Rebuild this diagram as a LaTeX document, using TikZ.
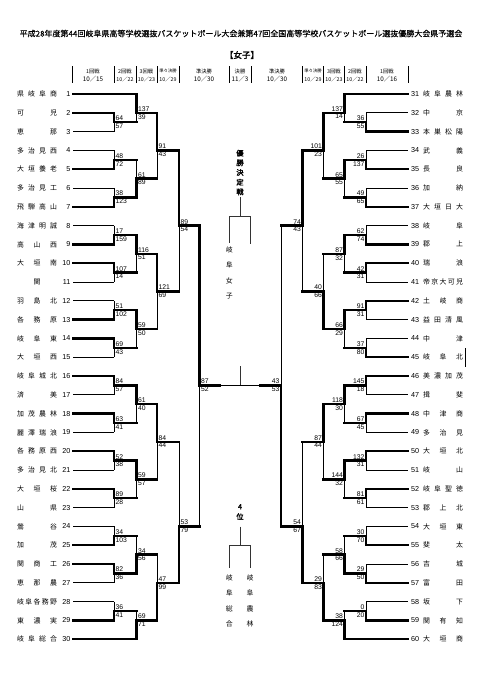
\documentclass[tikz,border=0pt]{standalone}
\usepackage{fontspec}
\setmainfont{Liberation Sans}
\newfontfamily\jp{Noto Sans CJK JP}
\newfontfamily\jpb[FakeBold=2]{Noto Sans CJK JP}
\newfontfamily\jpm[FakeBold=0.4]{Noto Sans CJK JP}
\tikzset{
 W/.style={line width=2.3pt, line cap=rect},
 L/.style={line width=0.7pt},
 G/.style={line width=0.8pt, black!80},
 sc/.style={font=\fontsize{6.8}{7}\selectfont, inner sep=0pt},
 num/.style={font=\fontsize{7.2}{8}\selectfont, inner sep=0pt},
 nm/.style={font=\jp\fontsize{6.9}{7}\selectfont, inner sep=0pt},
 hd/.style={font=\jp\fontsize{5.3}{6}\selectfont, inner sep=0pt},
 hds/.style={font=\jp\fontsize{4.3}{5}\selectfont, inner sep=0pt},
 dt/.style={font=\jp\fontsize{6.3}{7}\selectfont, inner sep=0pt},
 dts/.style={font=\jp\fontsize{5.3}{6}\selectfont, inner sep=0pt},
}
\newcommand\KY[2]{\pgfmathsetmacro#1{94+9.4*#2}}
% left match: xj xn ka kb ko sa sb winner(1/2) outstyle
\newcommand\LM[9]{%
 \KY\ya{#3}\KY\yb{#4}\KY\yo{#5}%
 \ifnum#8=1 \tikzset{sa/.style=W,sb/.style=L}\else\tikzset{sa/.style=L,sb/.style=W}\fi
 \draw[sb] (#1,\yo) -- (#1,\yb);
 \draw[sa] (#1,\ya) -- (#1,\yo);
 \draw[#9] (#1,\yo) -- (#2,\yo);
 \node[sc,anchor=south west] at ({#1+1.4},{\yo-1.3}) {#6};
 \node[sc,anchor=north west] at ({#1+1.4},{\yo+1.3}) {#7};
}
\newcommand\RM[9]{%
 \KY\ya{#3}\KY\yb{#4}\KY\yo{#5}%
 \ifnum#8=1 \tikzset{sa/.style=W,sb/.style=L}\else\tikzset{sa/.style=L,sb/.style=W}\fi
 \draw[sb] (#1,\yo) -- (#1,\yb);
 \draw[sa] (#1,\ya) -- (#1,\yo);
 \draw[#9] (#1,\yo) -- (#2,\yo);
 \node[sc,anchor=south east] at ({#1-1.4},{\yo-1.3}) {#6};
 \node[sc,anchor=north east] at ({#1-1.4},{\yo+1.3}) {#7};
}
\newcommand\F{\hfill\relax}
% teams: number name k xend style
\newcommand\LT[5]{\KY\yy{#3}%
 \node[num,anchor=east] at (70.5,\yy) {#1};
 \node[nm] at (37,\yy) {\makebox[40pt]{#2}};
 \draw[#5] (73.3,\yy) -- (#4,\yy);}
\newcommand\RT[5]{\KY\yy{#3}%
 \node[num,anchor=west] at (410.8,\yy) {#1};
 \node[nm] at (443,\yy) {\makebox[40pt]{#2}};
 \draw[#5] (407.7,\yy) -- (#4,\yy);}
\begin{document}
\begin{tikzpicture}[x=1pt,y=-1pt]
\useasboundingbox[fill=white] (0,0) rectangle (481,680);
% title
\node[font=\jpm\fontsize{8}{9}\selectfont, inner sep=0pt] (title) at (241,33.5) {平成28年度第44回岐阜県高等学校選抜バスケットボール大会兼第47回全国高等学校バスケットボール選抜優勝大会県予選会};
\node[font=\jpb\fontsize{8.5}{9}\selectfont, inner sep=0pt] (sub) at (242,55) {【女子】};
% header
\foreach \x in {72.5,114,136.5,157,179,229,251,302.5,323.5,344.5,366,408.5}
  \draw[L] (\x,66) -- (\x,83);
\foreach \x/\t in {93/1回戦,125/2回戦,146.5/3回戦,204/準決勝,240/決勝,277/準決勝,334/3回戦,355/2回戦,387/1回戦}
  \node[hd] at (\x,71) {\t};
\node[hds] at (168,71) {準々決勝};
\node[hds] at (313,71) {準々決勝};
\foreach \x/\t in {93/10／15,204/10／30,240/11／3,277/10／30,387/10／16}
  \node[dt] at (\x,79) {\t};
\foreach \x/\t in {125/10／22,146.5/10／23,168/10／29,313/10／29,334/10／23,355/10／22}
  \node[dts] at (\x,79) {\t};
% ---------------- left teams
\LT{1}{県\F 岐\F 阜\F 商}{0}{136}{W}
\LT{2}{可\F 児}{2}{114}{W}
\LT{3}{恵\F 那}{4}{114}{L}
\LT{4}{多\F 治\F 見\F 西}{6}{114}{L}
\LT{5}{大\F 垣\F 養\F 老}{8}{114}{W}
\LT{6}{多\F 治\F 見\F 工}{10}{114}{L}
\LT{7}{飛\F 騨\F 高\F 山}{12}{114}{W}
\LT{8}{海\F 津\F 明\F 誠}{14}{114}{L}
\LT{9}{高\F 山\F 西}{16}{114}{W}
\LT{10}{大\F 垣\F 南}{18}{114}{W}
\LT{11}{関}{20}{114}{L}
\LT{12}{羽\F 島\F 北}{22}{114}{L}
\LT{13}{各\F 務\F 原}{24}{114}{W}
\LT{14}{岐\F 阜\F 東}{26}{114}{W}
\LT{15}{大\F 垣\F 西}{28}{114}{L}
\LT{16}{岐\F 阜\F 城\F 北}{30}{114}{W}
\LT{17}{済\F 美}{32}{114}{L}
\LT{18}{加\F 茂\F 農\F 林}{34}{114}{W}
\LT{19}{麗\F 澤\F 瑞\F 浪}{36}{114}{L}
\LT{20}{各\F 務\F 原\F 西}{38}{114}{W}
\LT{21}{多\F 治\F 見\F 北}{40}{114}{L}
\LT{22}{大\F 垣\F 桜}{42}{114}{W}
\LT{23}{山\F 県}{44}{114}{L}
\LT{24}{鶯\F 谷}{46}{114}{L}
\LT{25}{加\F 茂}{48}{114}{W}
\LT{26}{関\F 商\F 工}{50}{114}{W}
\LT{27}{恵\F 那\F 農}{52}{114}{L}
\LT{28}{岐\F 阜\F 各\F 務\F 野}{54}{114}{L}
\LT{29}{東\F 濃\F 実}{56}{114}{W}
\LT{30}{岐\F 阜\F 総\F 合}{58}{136}{W}
% ---------------- left matches
\LM{114}{136.5}{2}{4}{3}{64}{57}{1}{W}
\LM{114}{136.5}{6}{8}{7}{48}{72}{2}{W}
\LM{114}{136.5}{10}{12}{11}{38}{123}{2}{W}
\LM{114}{136.5}{14}{16}{15}{17}{159}{2}{W}
\LM{114}{136.5}{18}{20}{19}{107}{14}{1}{W}
\LM{114}{136.5}{22}{24}{23}{51}{102}{2}{W}
\LM{114}{136.5}{26}{28}{27}{69}{43}{1}{W}
\LM{114}{136.5}{30}{32}{31}{84}{57}{1}{W}
\LM{114}{136.5}{34}{36}{35}{63}{41}{1}{W}
\LM{114}{136.5}{38}{40}{39}{52}{38}{1}{W}
\LM{114}{136.5}{42}{44}{43}{89}{28}{1}{W}
\LM{114}{136.5}{46}{48}{47}{34}{103}{2}{W}
\LM{114}{136.5}{50}{52}{51}{82}{36}{1}{W}
\LM{114}{136.5}{54}{56}{55}{36}{41}{2}{W}
\LM{136.5}{157}{0}{3}{2}{137}{39}{1}{W}
\LM{136.5}{157}{7}{11}{9}{61}{89}{2}{W}
\LM{136.5}{157}{15}{19}{17}{116}{51}{1}{W}
\LM{136.5}{157}{23}{27}{25}{59}{50}{1}{W}
\LM{136.5}{157}{31}{35}{33}{61}{40}{1}{W}
\LM{136.5}{157}{39}{43}{41}{59}{57}{1}{W}
\LM{136.5}{157}{47}{51}{49}{34}{56}{2}{W}
\LM{136.5}{157}{55}{58}{56}{69}{71}{2}{W}
\LM{157}{179}{2}{9}{6}{91}{43}{1}{W}
\LM{157}{179}{17}{25}{21}{121}{69}{1}{W}
\LM{157}{179}{33}{41}{37}{84}{44}{1}{W}
\LM{157}{179}{49}{56}{52}{47}{99}{2}{W}
\LM{179}{199.5}{6}{21}{14}{89}{54}{1}{W}
\LM{179}{199.5}{37}{52}{46}{53}{79}{2}{W}
\LM{199.5}{220}{14}{46}{31}{87}{52}{1}{W}
% ---------------- right teams
\RT{31}{岐\F 阜\F 農\F 林}{0}{344.5}{W}
\RT{32}{中\F 京}{2}{366}{L}
\RT{33}{本\F 巣\F 松\F 陽}{4}{366}{W}
\RT{34}{武\F 義}{6}{366}{L}
\RT{35}{長\F 良}{8}{366}{W}
\RT{36}{加\F 納}{10}{366}{L}
\RT{37}{大\F 垣\F 日\F 大}{12}{366}{W}
\RT{38}{岐\F 阜}{14}{366}{L}
\RT{39}{郡\F 上}{16}{366}{W}
\RT{40}{瑞\F 浪}{18}{366}{W}
\RT{41}{帝\F 京\F 大\F 可\F 児}{20}{366}{L}
\RT{42}{土\F 岐\F 商}{22}{366}{W}
\RT{43}{益\F 田\F 清\F 風}{24}{366}{L}
\RT{44}{中\F 津}{26}{366}{L}
\RT{45}{岐\F 阜\F 北}{28}{366}{W}
\RT{46}{美\F 濃\F 加\F 茂}{30}{366}{W}
\RT{47}{揖\F 斐}{32}{366}{L}
\RT{48}{中\F 津\F 商}{34}{366}{W}
\RT{49}{多\F 治\F 見}{36}{366}{L}
\RT{50}{大\F 垣\F 北}{38}{366}{W}
\RT{51}{岐\F 山}{40}{366}{L}
\RT{52}{岐\F 阜\F 聖\F 徳}{42}{366}{W}
\RT{53}{郡\F 上\F 北}{44}{366}{L}
\RT{54}{大\F 垣\F 東}{46}{366}{L}
\RT{55}{斐\F 太}{48}{366}{W}
\RT{56}{吉\F 城}{50}{366}{L}
\RT{57}{富\F 田}{52}{366}{W}
\RT{58}{坂\F 下}{54}{366}{L}
\RT{59}{関\F 有\F 知}{56}{366}{W}
\RT{60}{大\F 垣\F 商}{58}{344.5}{W}
% ---------------- right matches
\RM{366}{344.5}{2}{4}{3}{36}{55}{2}{W}
\RM{366}{344.5}{6}{8}{7}{26}{137}{2}{W}
\RM{366}{344.5}{10}{12}{11}{49}{65}{2}{W}
\RM{366}{344.5}{14}{16}{15}{62}{74}{2}{W}
\RM{366}{344.5}{18}{20}{19}{42}{31}{1}{W}
\RM{366}{344.5}{22}{24}{23}{91}{31}{1}{W}
\RM{366}{344.5}{26}{28}{27}{37}{80}{2}{W}
\RM{366}{344.5}{30}{32}{31}{145}{18}{1}{W}
\RM{366}{344.5}{34}{36}{35}{67}{45}{1}{W}
\RM{366}{344.5}{38}{40}{39}{132}{31}{1}{W}
\RM{366}{344.5}{42}{44}{43}{81}{61}{1}{W}
\RM{366}{344.5}{46}{48}{47}{30}{70}{2}{W}
\RM{366}{344.5}{50}{52}{51}{29}{50}{2}{W}
\RM{366}{344.5}{54}{56}{55}{0}{20}{2}{W}
\RM{344.5}{323.5}{0}{3}{2}{137}{14}{1}{W}
\RM{344.5}{323.5}{7}{11}{9}{65}{55}{1}{W}
\RM{344.5}{323.5}{15}{19}{17}{87}{32}{1}{W}
\RM{344.5}{323.5}{23}{27}{25}{66}{29}{1}{W}
\RM{344.5}{323.5}{31}{35}{33}{118}{30}{1}{W}
\RM{344.5}{323.5}{39}{43}{41}{144}{32}{1}{W}
\RM{344.5}{323.5}{47}{51}{49}{58}{66}{2}{W}
\RM{344.5}{323.5}{55}{58}{56}{38}{124}{2}{W}
\RM{323.5}{302.5}{2}{9}{6}{101}{23}{1}{W}
\RM{323.5}{302.5}{17}{25}{21}{40}{66}{2}{W}
\RM{323.5}{302.5}{33}{41}{37}{87}{44}{1}{W}
\RM{323.5}{302.5}{49}{56}{52}{29}{83}{2}{W}
\RM{302.5}{281}{6}{21}{14}{74}{43}{1}{W}
\RM{302.5}{281}{37}{52}{46}{54}{67}{2}{W}
\RM{281}{260}{14}{46}{31}{43}{53}{2}{W}
% ---------------- final
\KY\yf{31}
\draw[L] (220,\yf) -- (260,\yf);
\draw[G] (240,366) -- (240,\yf);
% stray mark near 45
\draw[L] (465,348) -- (465,367);
% ---------------- championship decision
\node[font=\jpb\fontsize{7.2}{9.7}\selectfont, align=center, inner sep=0pt] (yusho) at (240,172.5) {優\\勝\\決\\定\\戦};
\draw[G] (240,197) -- (240,216);
\draw[G] (229.3,216) -- (250,216);
\draw[G] (229.3,216) -- (229.3,243);
\draw[G] (250,216) -- (250,244);
\node[font=\jp\fontsize{6.9}{15.3}\selectfont, align=center, inner sep=0pt] (gifujo) at (229.3,273) {岐\\阜\\女\\子};
% ---------------- 4th place
\node[font=\jpb\fontsize{7.2}{10}\selectfont, align=center, inner sep=0pt] (yoni) at (240,512) {4\\位};
\draw[G] (240,526.7) -- (240,545);
\draw[G] (229.3,545) -- (250,545);
\draw[G] (229.3,545) -- (229.3,568);
\draw[G] (250,545) -- (250,568);
\node[font=\jp\fontsize{6.9}{15.5}\selectfont, align=center, inner sep=0pt] (sogo) at (229.3,601) {岐\\阜\\総\\合};
\node[font=\jp\fontsize{6.9}{15.5}\selectfont, align=center, inner sep=0pt] (norin) at (250,601) {岐\\阜\\農\\林};
\end{tikzpicture}
\end{document}
